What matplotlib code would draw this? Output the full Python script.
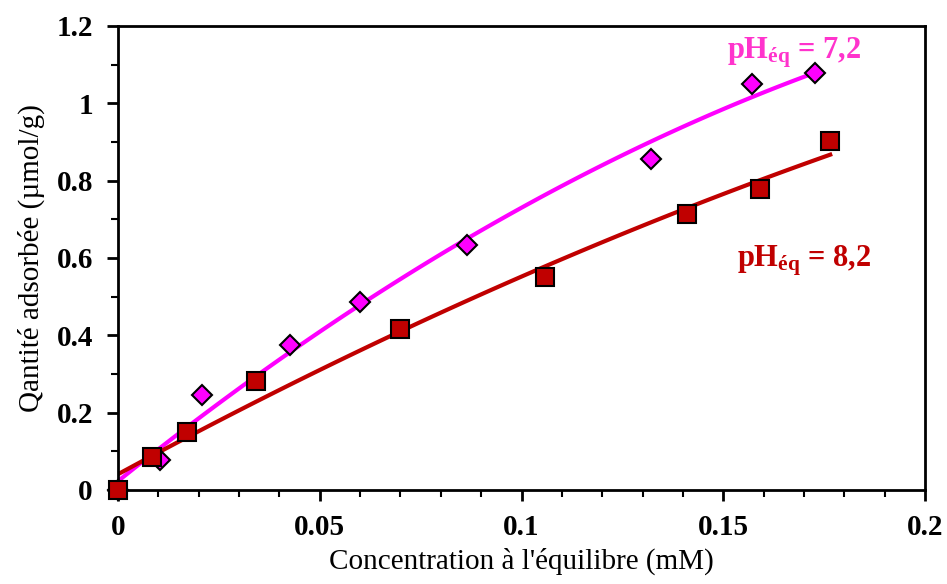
import matplotlib.pyplot as plt
import numpy as np
from matplotlib.ticker import MultipleLocator

# concentration a l'equilibre (mM) / quantite adsorbee (umol/g)
x_72 = [0.0, 0.0104, 0.0208, 0.0426, 0.060, 0.0865, 0.132, 0.157, 0.1727]
y_72 = [0.0, 0.078, 0.246, 0.375, 0.486, 0.634, 0.856, 1.05, 1.078]

x_82 = [0.0, 0.0084, 0.0171, 0.0342, 0.0699, 0.1058, 0.141, 0.159, 0.1765]
y_82 = [0.0, 0.085, 0.150, 0.282, 0.416, 0.551, 0.714, 0.778, 0.902]

xticks = [0, 0.05, 0.1, 0.15, 0.2]
xtick_labels = ["0", "0.05", "0.1", "0.15", "0.2"]
yticks = [0, 0.2, 0.4, 0.6, 0.8, 1.0, 1.2]
ytick_labels = ["0", "0.2", "0.4", "0.6", "0.8", "1", "1.2"]

plt.rcParams["font.family"] = "Liberation Serif"
plt.rcParams["mathtext.fontset"] = "custom"
plt.rcParams["mathtext.rm"] = "Liberation Serif:bold"
plt.rcParams["mathtext.bf"] = "Liberation Serif:bold"
plt.rcParams["mathtext.it"] = "Liberation Serif:bold"

magenta = "#FF00FF"
red = "#C00000"

fig = plt.figure(figsize=(9.47, 5.84), dpi=100)
ax = fig.add_axes([0.1246, 0.161, 0.8522, 0.7945])

# trend lines (2nd order fit of the points, like the spreadsheet trendline)
xs = np.linspace(0, max(x_72), 100)
ax.plot(xs, np.polyval(np.polyfit(x_72, y_72, 2), xs), color=magenta, lw=3, zorder=2)
xs = np.linspace(0, max(x_82), 100)
ax.plot(xs, np.polyval(np.polyfit(x_82, y_82, 2), xs), color=red, lw=3, zorder=2)

ax.plot(x_72, y_72, "D", ms=10, mfc=magenta, mec="black", mew=1.5, ls="none", zorder=3, clip_on=False)
ax.plot(x_82, y_82, "s", ms=13, mfc=red, mec="black", mew=1.5, ls="none", zorder=4, clip_on=False)

ax.set_xlim(0, 0.2)
ax.set_ylim(0, 1.2)
ax.set_xticks(xticks)
ax.set_xticklabels(xtick_labels)
ax.set_yticks(yticks)
ax.set_yticklabels(ytick_labels)
ax.xaxis.set_minor_locator(MultipleLocator(0.01))
ax.yaxis.set_minor_locator(MultipleLocator(0.1))
ax.tick_params(which="major", direction="out", length=8, width=2, labelsize=21)
ax.tick_params(axis="x", which="major", pad=9)
ax.tick_params(axis="y", which="major", pad=10)
ax.tick_params(which="minor", direction="out", length=5, width=1.5)
for lbl in ax.get_xticklabels() + ax.get_yticklabels():
    lbl.set_fontweight("bold")
for s in ax.spines.values():
    s.set_linewidth(2)

ax.set_xlabel("Concentration à l'équilibre (mM)", fontsize=21, labelpad=5)
ax.set_ylabel("Qantité adsorbée (µmol/g)", fontsize=21, labelpad=8)

ax.text(0.1510, 1.117, r"pH$_{éq}$ = 7,2", color="#FF33CC", fontsize=22,
        fontweight="bold", ha="left", va="baseline")
ax.text(0.1535, 0.578, r"pH$_{éq}$ = 8,2", color=red, fontsize=22,
        fontweight="bold", ha="left", va="baseline")

fig.savefig("out.png", dpi=100)
